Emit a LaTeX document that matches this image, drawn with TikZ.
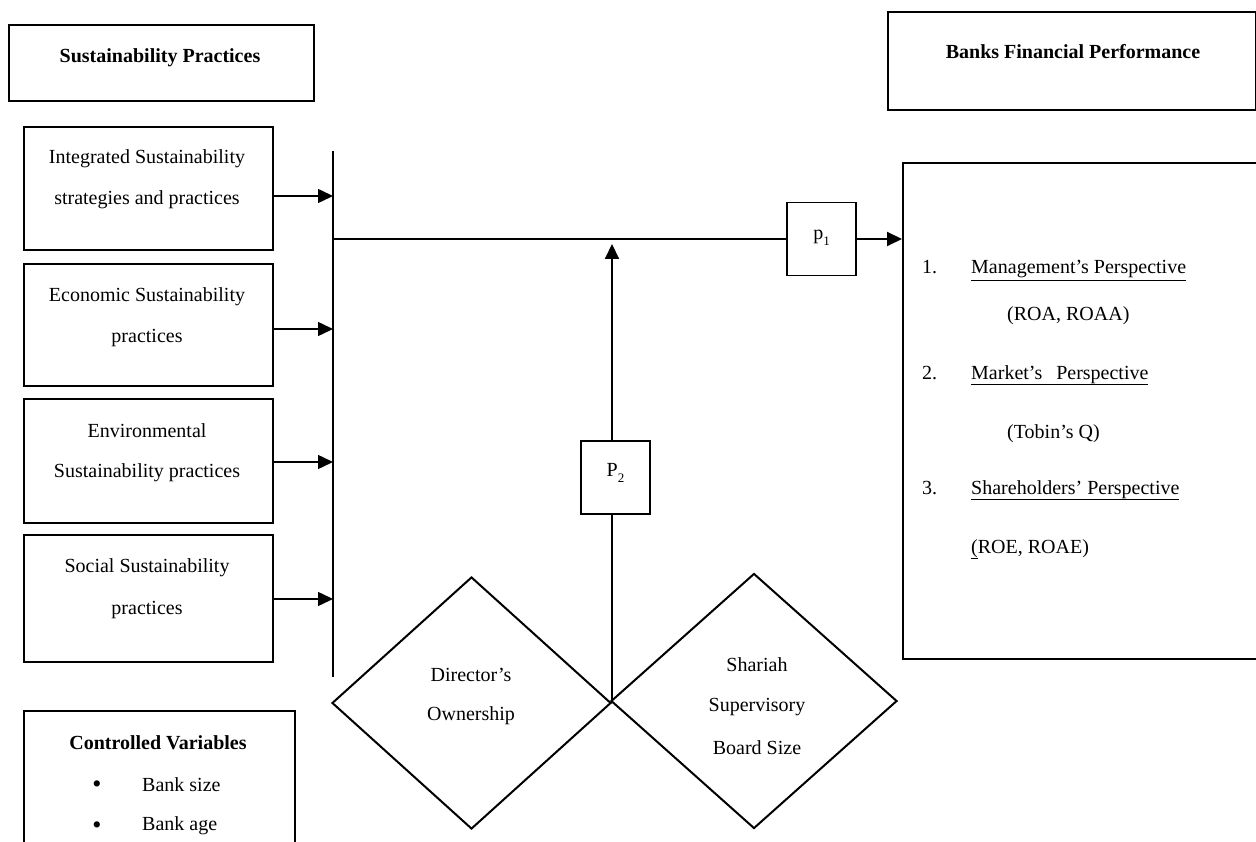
\documentclass[tikz,border=0pt]{standalone}
\usepackage{fontspec}
\setmainfont{Liberation Serif}
\usetikzlibrary{shapes.geometric,arrows.meta}
\newcommand{\psub}[1]{\raisebox{-6pt}{\fontsize{13}{14}\selectfont #1}}
\begin{document}
\begin{tikzpicture}[x=1pt,y=-1pt,
  box/.style={draw,line width=2.2pt,rectangle,inner sep=0pt,anchor=north west},
  pbox/.style={draw,line width=1.1pt,rectangle,inner sep=0pt,minimum width=69pt,minimum height=73pt},
  dia/.style={draw,line width=2pt,diamond,inner sep=0pt},
  txt/.style={font=\fontsize{20}{22}\selectfont,inner sep=0pt},
  btxt/.style={font=\fontsize{20}{22}\selectfont\bfseries,inner sep=0pt},
  arr/.style={line width=1.5pt,-{Triangle[length=15pt,width=14pt]}},
  line/.style={line width=2pt},
]
\clip (0,0) rectangle (1256,842);
\fill[white] (0,0) rectangle (1256,842);

% header boxes
\node[box,minimum width=305pt,minimum height=76pt] (sp) at (8,24) {};
\node[btxt] at (160,58) {Sustainability Practices};
\node[box,minimum width=368pt,minimum height=98pt] (bfp) at (887,11) {};
\node[btxt] at (1073,52) {Banks Financial Performance};

% practice boxes
\node[box,minimum width=249pt,minimum height=123pt] (int) at (23,126) {};
\node[txt] at (147,159) {Integrated Sustainability};
\node[txt] at (147,200) {strategies and practices};
\node[box,minimum width=249pt,minimum height=122pt] (eco) at (23,263) {};
\node[txt] at (147,297) {Economic Sustainability};
\node[txt] at (147,338) {practices};
\node[box,minimum width=249pt,minimum height=124pt] (env) at (23,398) {};
\node[txt] at (147,431) {Environmental};
\node[txt] at (147,473) {Sustainability practices};
\node[box,minimum width=249pt,minimum height=127pt] (soc) at (23,534) {};
\node[txt] at (147,568) {Social Sustainability};
\node[txt] at (147,610) {practices};

% vertical bar
\coordinate (bartop) at (333,151);
\coordinate (barbot) at (333,677);
\draw[line] (bartop) -- (barbot);
\coordinate (a1) at (333,196);
\coordinate (a2) at (333,329);
\coordinate (a3) at (333,462);
\coordinate (a4) at (333,599);
\draw[arr] (int.east |- a1) -- (a1);
\draw[arr] (eco.east |- a2) -- (a2);
\draw[arr] (env.east |- a3) -- (a3);
\draw[arr] (soc.east |- a4) -- (a4);

% outcome box
\node[box,minimum width=380pt,minimum height=496pt] (out) at (902,162) {};
\node[txt,anchor=base west] at (922,274) {1.};
\node[txt,anchor=base west] at (971,274) {\underline{Management’s Perspective}};
\node[txt,anchor=base west] at (1007,321) {(ROA, ROAA)};
\node[txt,anchor=base west] at (922,379) {2.};
\node[txt,anchor=base west] at (971,379) {\underline{Market’s\hspace{14pt}Perspective}};
\node[txt,anchor=base west] at (1007,438) {(Tobin’s Q)};
\node[txt,anchor=base west] at (922,494) {3.};
\node[txt,anchor=base west] at (971,494) {\underline{Shareholders’ Perspective}};
\node[txt,anchor=base west] at (971,553) {\underline{(}ROE, ROAE)};

% p1
\coordinate (hstart) at (333,239);
\node[pbox] (p1) at (821.5,239) {};
\node[txt] at (821.5,238) {p\psub{1}};
\draw[line] (hstart) -- (p1.west);
\draw[arr,line width=2pt] (p1.east) -- (out.west |- p1.east);

% diamonds
\node[dia,minimum width=279pt,minimum height=252pt] (dir) at (471.5,703) {};
\node[txt] at (471,675) {Director’s};
\node[txt] at (471,716) {Ownership};
\node[dia,minimum width=286pt,minimum height=255pt] (ssb) at (754,701) {};
\node[txt] at (757,665) {Shariah};
\node[txt] at (757,707) {Supervisory};
\node[txt] at (757,748) {Board Size};

% p2
\node[pbox] (p2) at (615.5,477.5) {};
\node[txt] at (615.5,473) {P\psub{2}};
\coordinate (junc) at (dir.east);
\coordinate (tip) at (junc |- p1.west);
\draw[line] (junc) -- (junc |- p2.south);
\draw[arr,line width=2pt] (junc |- p2.north) -- ([yshift=-5pt]tip);

% controlled variables
\node[box,minimum width=271pt,minimum height=160pt] (cv) at (23,710) {};
\node[btxt] at (158,743) {Controlled Variables};
\node[font=\fontsize{26}{26}\selectfont,inner sep=0pt] at (97,787) {\textbullet};
\node[txt,anchor=west] at (142,785) {Bank size};
\node[font=\fontsize{26}{26}\selectfont,inner sep=0pt] at (97,828) {\textbullet};
\node[txt,anchor=west] at (142,826) {Bank age};
\end{tikzpicture}
\end{document}
